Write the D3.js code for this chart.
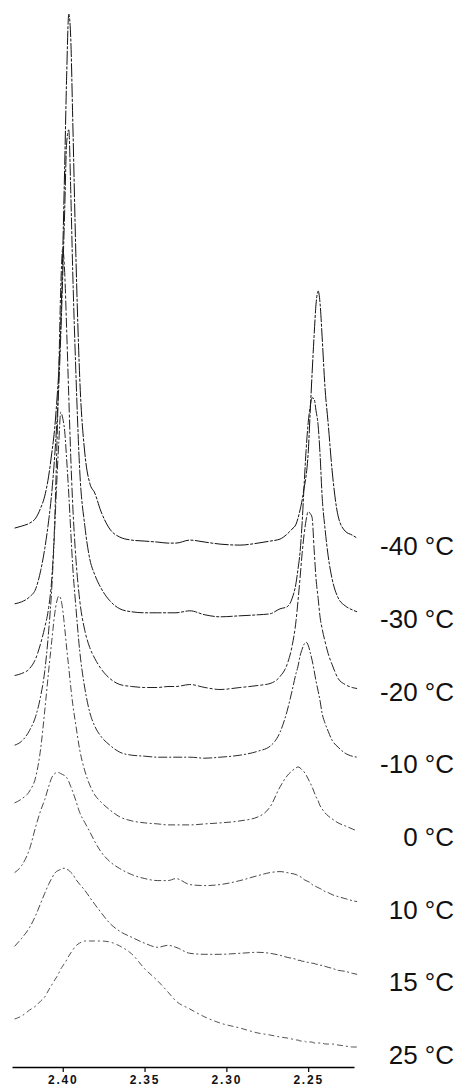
<!DOCTYPE html>
<html><head><meta charset="utf-8">
<script src="https://cdn.jsdelivr.net/npm/d3@7"></script>
<style>html,body{margin:0;padding:0;background:#fff;} svg{display:block;}</style>
</head><body>
<svg id="chart" width="460" height="1086"></svg>
<script>
// chemical shift grid (ppm), decreasing left to right
const shifts = [
  2.4294, 2.4251, 2.4202, 2.4165, 2.4135, 2.4110, 2.4086, 2.4067, 2.4049, 2.4037,
  2.4024, 2.4012, 2.4000, 2.3988, 2.3976, 2.3963, 2.3951, 2.3939, 2.3920, 2.3896,
  2.3865, 2.3835, 2.3804, 2.3767, 2.3712, 2.3651, 2.3578, 2.3498, 2.3419, 2.3357,
  2.3308, 2.3223, 2.3131, 2.3039, 2.2917, 2.2807, 2.2733, 2.2672, 2.2629, 2.2599,
  2.2574, 2.2562, 2.2550, 2.2537, 2.2525, 2.2513, 2.2500, 2.2488, 2.2476, 2.2464,
  2.2452, 2.2439, 2.2427, 2.2415, 2.2397, 2.2378, 2.2354, 2.2317, 2.2274, 2.2231, 2.2201
];
const temperatures = ["-40 °C", "-30 °C", "-20 °C", "-10 °C", "0 °C", "10 °C", "15 °C", "25 °C"];

const specM40 = [
  10, 12, 15, 20, 30, 42, 62, 85, 110, 135,
  168, 215, 285, 372, 462, 524, 500, 420, 285, 160,
  85, 55, 45, 27, 9, 1, -2, -3, -4, -5,
  -5, -2, -4, -6, -7, -5, -3, -1, 4, 9,
  14, 20, 28, 38, 50, 62, 85, 125, 165, 202,
  234, 247, 234, 202, 150, 115, 68, 22, 7, 3, 0
];
const specM30 = [
  7, 9, 14, 22, 40, 62, 90, 118, 155, 185,
  225, 275, 335, 400, 468, 481, 420, 340, 240, 140,
  85, 52, 36, 23, 10, 2, -1, -2, -2, -2,
  -2, 0, -4, -6, -5, -4, -3, 2, 4, 12,
  28, 42, 58, 88, 125, 160, 188, 204, 213, 212,
  200, 185, 155, 115, 82, 55, 32, 13, 5, 1, -1
];
const specM20 = [
  8, 10, 15, 25, 40, 56, 76, 105, 162, 230,
  312, 397, 435, 411, 354, 287, 227, 179, 126, 83,
  53, 36, 25, 15, 5, -1, -3, -4, -4, -3,
  -3, -1, -4, -6, -4, -2, 0, 7, 19, 37,
  63, 83, 105, 130, 149, 163, 172, 170, 166, 135,
  105, 85, 66, 55, 42, 30, 19, 5, -1, -4, -5
];
const specM10 = [
  11, 15, 26, 40, 60, 85, 125, 168, 228, 272,
  314, 344, 338, 325, 297, 262, 225, 190, 150, 105,
  68, 44, 30, 20, 11, 4, 1, 0, -1, -1,
  -1, -1, -2, -1, 1, 5, 10, 24, 45, 65,
  83, 90, 100, 107, 112, 114, 111, 104, 96, 86,
  75, 65, 55, 43, 33, 25, 16, 9, 3, 0, -1
];
const spec0 = [
  26, 30, 38, 52, 80, 118, 158, 188, 215, 227,
  233, 230, 219, 201, 181, 161, 142, 125, 104, 79,
  58, 44, 34, 27, 19, 12, 8, 6, 5, 4,
  4, 4, 5, 6, 8, 12, 22, 42, 53, 58,
  61, 62, 61, 59, 57, 54, 50, 46, 42, 37,
  32, 28, 23, 20, 16, 13, 10, 6, 3, 0, -2
];
const spec10 = [
  29, 36, 53, 75, 91, 102, 115, 124, 128, 129,
  129, 128, 127, 126, 124, 120, 115, 110, 101, 89,
  79, 70, 60, 50, 40, 33, 27, 23, 21, 21,
  23, 17, 16, 17, 21, 26, 29, 30, 29, 28,
  27, 26, 25, 24, 22, 21, 20, 19, 17, 16,
  15, 14, 13, 12, 10, 9, 7, 5, 3, 1, 0
];
const spec15 = [
  28, 36, 47, 59, 71, 81, 90, 96, 101, 103,
  104, 105, 106, 106, 105, 104, 102, 100, 95, 90,
  84, 77, 70, 62, 51, 43, 37, 31, 27, 29,
  27, 21, 20, 20, 21, 22, 21, 19, 17, 16,
  15, 14, 14, 13, 13, 12, 12, 12, 11, 11,
  10, 10, 9, 9, 8, 7, 6, 4, 3, 1, 0
];
const spec25 = [
  28, 31, 37, 41, 46, 50, 57, 62, 67, 70,
  74, 78, 81, 84, 87, 91, 94, 97, 101, 104,
  106, 106, 106, 106, 105, 101, 93, 78, 66, 55,
  46, 38, 30, 24, 19, 14, 12, 10, 9, 8,
  7, 7, 6, 6, 6, 5, 5, 5, 5, 4,
  4, 4, 4, 4, 3, 3, 3, 2, 1, 0, 0
];
const tickValues = [2.40, 2.35, 2.30, 2.25];
const tickLabels = ["2.40", "2.35", "2.30", "2.25"];

const series = [specM40, specM30, specM20, specM10, spec0, spec10, spec15, spec25];

const svg = d3.select("#chart");
const x = d3.scaleLinear().domain([2.431, 2.222]).range([12, 354]);
const y = d3.scaleLinear().domain([0, 1033]).range([1047, 14]);
const step = 72.7;

const line = d3.line()
  .x(d => x(d[0]))
  .y(d => y(d[1]))
  .curve(d3.curveMonotoneX);

const colors = ["#111", "#1a1a1a", "#222", "#2a2a2a", "#444", "#4a4a4a", "#4a4a4a", "#555"];
const dashes = ["14 1.5 3 1.5", "12 1.5 3 1.5", "10 2 3 2", "9 2 2 2", "7 2.5 2 2.5", "7 2.5 2 2.5", "7 2.5 2 2.5", "6 3 2 3"];

series.forEach((s, k) => {
  const level = (series.length - 1 - k) * step;
  const pts = shifts.map((p, i) => [p, level + s[i]]);
  svg.append("path")
    .attr("d", line(pts))
    .attr("fill", "none")
    .attr("stroke", colors[k])
    .attr("stroke-width", 1)
    .attr("stroke-dasharray", dashes[k]);
  svg.append("text")
    .attr("x", 454)
    .attr("y", y(level) + 17)
    .attr("text-anchor", "end")
    .attr("font-family", "Liberation Sans, Arial, sans-serif")
    .attr("font-size", 26)
    .attr("fill", "#111")
    .text(temperatures[k]);
});

const axis = d3.axisBottom(x)
  .tickValues(tickValues)
  .tickFormat((d, i) => tickLabels[i])
  .tickSizeInner(5)
  .tickSizeOuter(0);
const g = svg.append("g").attr("transform", "translate(0,1067)").call(axis);
g.select(".domain").attr("stroke", "#000").attr("stroke-width", 1.6);
g.selectAll(".tick line").attr("stroke", "#000").attr("stroke-width", 1.2);
g.selectAll(".tick text")
  .attr("y", 17).attr("dy", 0)
  .attr("font-size", 12)
  .attr("font-weight", "bold")
  .attr("font-family", "Liberation Sans, Arial, sans-serif")
  .attr("letter-spacing", "1.8px")
  .attr("fill", "#111");
</script>
</body></html>
